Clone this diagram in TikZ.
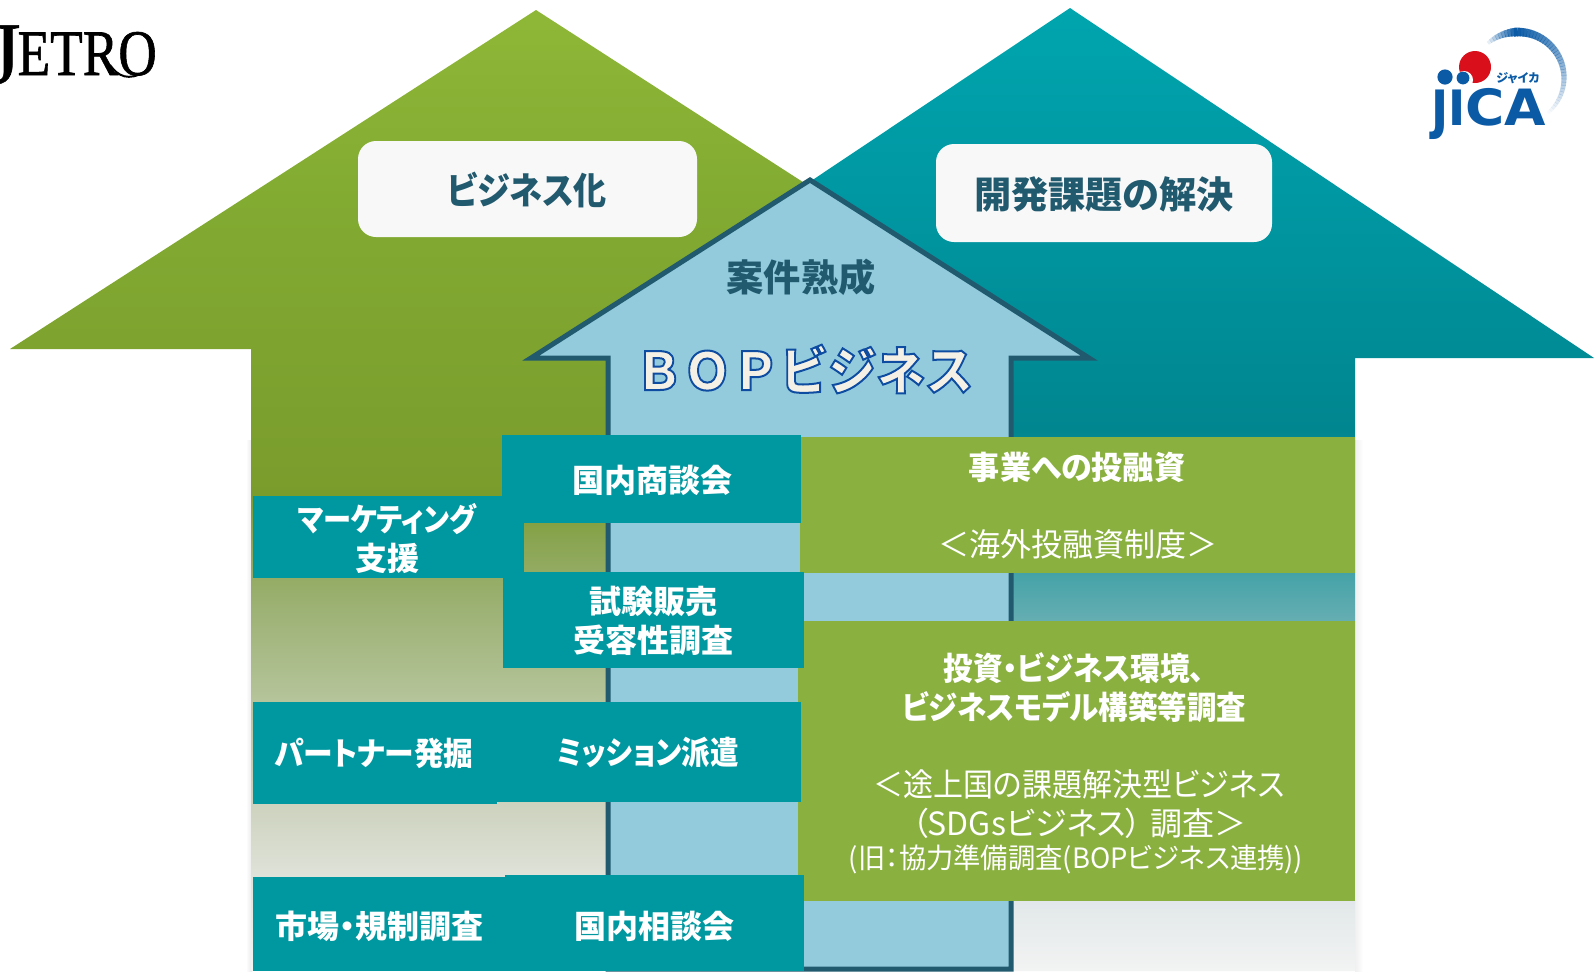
\documentclass[tikz,border=0pt]{standalone}
\usepackage{fontspec}
\setmainfont{Noto Sans CJK JP}[RawFeature=+palt]
\newfontfamily\bopfont{Noto Sans CJK JP}
\newfontfamily\jetrofont{Liberation Serif}
\newfontfamily\jicafont{DejaVu Sans}
\usetikzlibrary{calc}
\definecolor{inkc}{HTML}{215A6E}
\definecolor{teal1}{HTML}{0098A0}
\definecolor{green1}{HTML}{8AB03F}
\definecolor{blue1}{HTML}{93CBDD}
\definecolor{panel}{HTML}{F8F8F8}
\definecolor{jicab}{HTML}{0B5AA5}
\definecolor{jicar}{HTML}{D9101C}
\definecolor{creamc}{HTML}{F5F0E6}
\pgfdeclareverticalshading{greenfade}{100bp}{
 rgb(0bp)=(0.95,0.955,0.94); rgb(25bp)=(0.95,0.955,0.94);
 rgb(29.74bp)=(0.878,0.89,0.855); rgb(33.4bp)=(0.808,0.831,0.753);
 rgb(39.1bp)=(0.71,0.769,0.604); rgb(43.8bp)=(0.616,0.698,0.459);
 rgb(47.4bp)=(0.541,0.647,0.322); rgb(49.75bp)=(0.478,0.612,0.173);
 rgb(65.1bp)=(0.51,0.67,0.196); rgb(75bp)=(0.56,0.718,0.216); rgb(100bp)=(0.56,0.718,0.216)}
\pgfdeclareverticalshading{tealfade}{100bp}{
 rgb(0bp)=(0.95,0.953,0.953); rgb(25bp)=(0.95,0.953,0.953); rgb(28.6bp)=(0.886,0.91,0.914);
 rgb(43.15bp)=(0.4,0.682,0.698); rgb(45.65bp)=(0.27,0.639,0.659);
 rgb(53.1bp)=(0,0.525,0.561); rgb(65bp)=(0,0.592,0.635); rgb(75bp)=(0,0.647,0.682); rgb(100bp)=(0,0.647,0.682)}
\newcommand{\hs}[2]{\scalebox{#1}[1]{#2}}
\tikzset{
 x=0.5pt,y=-0.5pt,
 tile/.style={fill=teal1,draw=none},
 greenbox/.style={fill=green1,draw=none},
 panelbox/.style={fill=panel,draw=none,rounded corners=9pt},
 tiletext/.style={text=white,inner sep=0pt,align=center,font=\bfseries\fontsize{16}{19.5}\selectfont},
 plaintext/.style={text=white,inner sep=0pt,align=center,font=\fontsize{16}{19.5}\selectfont},
 smalltext/.style={text=white,inner sep=0pt,align=center,font=\fontsize{14}{17}\selectfont},
 headtext/.style={text=inkc,inner sep=0pt,font=\bfseries\fontsize{18.6}{22}\selectfont},
}
\begin{document}
\begin{tikzpicture}
\useasboundingbox (0,0) rectangle (1594,971);
% soft edge shadows
\shade[left color=white,right color=black!9] (246,440) rectangle (252,971);
\shade[left color=black!6,right color=white] (1355,440) rectangle (1363,971);
% large arrows
\shade[shading=tealfade] (1070,8) -- (1594,358) -- (1355,358) -- (1355,971) -- (700,971) -- (700,358) -- (546,358) -- cycle;
\shade[shading=greenfade] (536,10) -- (1062,349) -- (800,349) -- (800,971) -- (251,971) -- (251,349) -- (10,349) -- cycle;
% centre arrow
\draw[fill=blue1,draw=inkc,line width=2.5pt,miter limit=10] (810,180) -- (1089,358) -- (1011,358) -- (1011,969) -- (608,969) -- (608,358) -- (531,358) -- cycle;
% panels
\fill[panelbox] (358,141) rectangle (697,237);
\fill[panelbox] (936,144) rectangle (1272,242);
% green boxes
\fill[greenbox] (800,437) rectangle (1355,573);
\fill[greenbox] (798,621) rectangle (1355,901);
% teal tiles
\fill[tile] (253,496) rectangle (524,578);
\fill[tile] (502,435) rectangle (801,523);
\fill[tile] (503,572) rectangle (804,668);
\fill[tile] (253,702) rectangle (497,804);
\fill[tile] (497,702) rectangle (801,802);
\fill[tile] (253,877) rectangle (505,971);
\fill[tile] (505,875) rectangle (804,971);
% heads
\node[headtext] (bizhead) at (527,190) {\hs{.89}{ビジネス化}};
\node[headtext] (devhead) at (1104,194) {開発課題の解決};
\node[headtext] (matur) at (801,277) {案件熟成};
\node[inner sep=0pt,text=creamc] (bop) at (804,369)
 {\special{pdf:code 2 Tr 1 w 0.05 0.3 0.63 RG}\hs{.93}{\bopfont\bfseries\fontsize{26}{30}\selectfont ＢＯＰビジネス}\special{pdf:code 0 Tr}};
% tile texts
\node[tiletext] (market) at (387,538) {\hs{.88}{マーケティング}\\支援};
\node[tiletext] (shodan) at (652,480) {国内商談会};
\node[tiletext] (shiken) at (653,621) {試験販売\\受容性調査};
\node[tiletext] (partner) at (374,753) {\hs{.93}{パートナー発掘}};
\node[tiletext] (mission) at (648,752) {\hs{.89}{ミッション派遣}};
\node[tiletext] (shijo) at (379,926) {市場・規制調査};
\node[tiletext] (sodan) at (654,926) {国内相談会};
% green box texts
\node[tiletext] (toyushi) at (1077,467) {\hs{.97}{事業への投融資}};
\node[plaintext] (kaigai) at (1078,544) {\hs{.97}{＜海外投融資制度＞}};
\node[tiletext] (kankyo) at (1074,688) {\hs{.925}{投資・ビジネス環境、}\\\hs{.92}{ビジネスモデル構築等調査}};
\node[plaintext] (tojo) at (1079,804) {\hs{.937}{＜途上国の課題解決型ビジネス}\\（SDGsビジネス）\hspace{4pt}調査＞};
\node[smalltext] (kyu) at (1076,859) {\hs{.975}{(旧：協力準備調査(BOPビジネス連携))}};
% JETRO logo
\node[inner sep=0pt,anchor=base west,text=black] (jetro) at (-14,75)
 {\special{pdf:code 2 Tr 0.35 w 0 0 0 RG}\jetrofont\raisebox{-4pt}{\fontsize{44}{44}\selectfont J}\hspace{-1.5pt}\scalebox{0.82}[1]{\fontsize{32.5}{36}\selectfont ETRO}\special{pdf:code 0 Tr}};
\draw[black,line width=1pt] (110,65) .. controls (118,76) and (128,82) .. (146,71);
% JICA logo
\foreach \a in {135,131,...,-49}{
 \pgfmathsetmacro{\op}{(\a>95)*(135-\a)/40 + (\a<=95)*(\a+49)/144}
 \pgfmathsetmacro{\wd}{1.6+2.8*\op}
 \draw[jicab,opacity=\op,line width=\wd pt] ($(1518,78)+(\a:23pt)$) arc[start angle=\a,end angle=\a-4.5,radius=23pt];
}
\fill[jicar] (1475,67) circle[radius=8pt];
\fill[white] (1464,80) circle[radius=4.5pt];
\fill[jicab] (1445,77) circle[radius=3.8pt];
\fill[jicab] (1463,78) circle[radius=3.2pt];
\node[inner sep=0pt,anchor=base west,text=jicab] (jica) at (1431,125)
 {\jicafont\bfseries\fontsize{25}{25}\selectfont\scalebox{1}[1.3]{ȷı}\hs{1.07}{CA}};
\node[inner sep=0pt,text=jicab] (jicak) at (1518,78) {\bfseries\fontsize{6}{7}\selectfont ジャイカ};
\end{tikzpicture}
\end{document}
